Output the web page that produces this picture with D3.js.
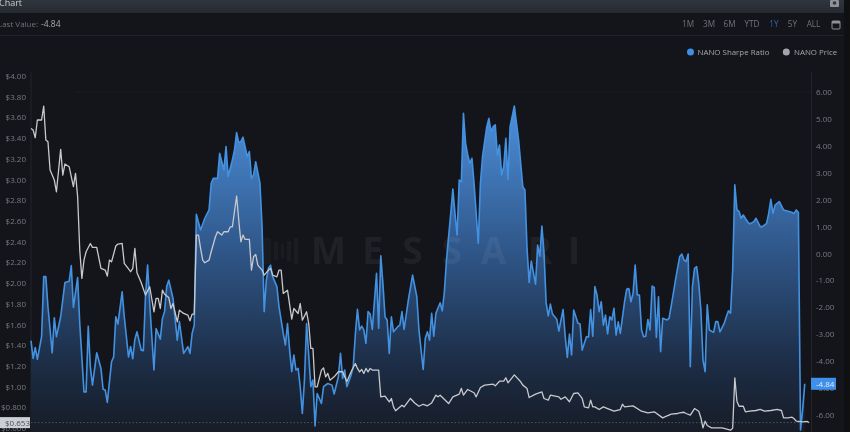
<!DOCTYPE html>
<html>
<head>
<meta charset="utf-8">
<script src="https://cdn.jsdelivr.net/npm/d3@7/dist/d3.min.js"></script>
<style>
html,body{margin:0;padding:0;background:#13151a;overflow:hidden}
svg{display:block;filter:blur(.35px)}
text{font-family:"Open Sans",sans-serif}
</style>
</head>
<body>
<svg id="c" width="850" height="432"></svg>
<script>
// [day of the 1Y window, value]
const sharpeSeries = [[0,-3.24],[1,-3.9],[2,-3.49],[3,-3.93],[5,-3.09],[6,-.86],[7,-.86],[8,-1.98],[10,-3.69],[11,-2.39],[12,-3.09],[14,-2.35],[16,-1.08],[18,-1.03],[19,-.45],[20,-2],[22,-.89],[23,-2.6],[25,-5.14],[26,-5.14],[27,-2.7],[28,-4.21],[29,-4.89],[31,-3.69],[33,-4.27],[34,-5.04],[35,-5.07],[36,-5.53],[38,-4.02],[39,-3.84],[40,-2.35],[41,-2.62],[43,-1.42],[44,-2.35],[46,-3.84],[47,-3.46],[48,-3.91],[49,-3.19],[50,-2.91],[52,-3.59],[53,-3.61],[54,-1.6],[55,-.43],[56,-1.85],[58,-4.33],[59,-2.79],[61,-3.18],[62,-2.41],[63,-2.16],[64,-1.23],[65,-.99],[67,-1.67],[69,-3.22],[70,-2.53],[72,-3.71],[74,-3.46],[75,-3.71],[76,-2.97],[77,-2.66],[78,1.46],[80,.87],[82,1.31],[84,1.62],[85,2.61],[86,2.79],[88,2.79],[89,3.72],[91,3.1],[92,3.97],[93,2.86],[95,3.48],[96,3.85],[97,4.49],[98,4.12],[99,4.16],[100,4.32],[102,3.6],[103,3.79],[104,2.79],[105,2.92],[106,3.41],[108,2.61],[109,1],[110,-2.16],[111,-.99],[112,-.55],[113,-.43],[114,-.86],[116,-1.23],[117,-1.98],[119,-2.97],[120,-3.4],[121,-2.6],[122,-3.59],[123,-4.39],[124,-3.77],[125,-4.33],[126,-4.27],[127,-4.95],[128,-5.94],[129,-4.7],[130,-2.6],[132,-4.95],[133,-4.7],[134,-6.41],[135,-5.2],[137,-5.57],[138,-4.95],[140,-4.83],[142,-4.89],[143,-5.22],[145,-4.58],[146,-3.71],[147,-4.64],[148,-4.33],[149,-4.95],[151,-4.52],[152,-4.21],[153,-3],[154,-2.07],[155,-2.84],[156,-2.7],[157,-2.84],[158,-3.34],[159,-2.16],[160,-2.25],[161,-2.82],[163,-.74],[164,-2.78],[165,-.09],[166,-1.11],[167,-2.35],[168,-2.47],[169,-3.71],[170,-2.35],[171,-2.91],[173,-2.72],[174,-2.66],[175,-2.16],[176,-2.82],[178,-1.73],[180,-.8],[182,-1.6],[183,-2.84],[185,-4.31],[186,-3.15],[187,-2.91],[188,-3.22],[189,-2.22],[190,-3.07],[191,-2.22],[193,-1.83],[194,-2.13],[195,-1.42],[196,-.24],[198,1.49],[199,2.39],[200,1.49],[201,.69],[202,2.73],[203,2.67],[204,5.21],[205,4.1],[206,3.66],[207,3.35],[208,3.54],[209,2.61],[211,.38],[212,2.61],[213,3.6],[215,4.71],[216,5.02],[217,4.53],[218,4.71],[219,4.78],[220,3.66],[221,4.03],[222,2.92],[223,3.23],[224,4.28],[225,2.76],[226,4.71],[228,5.48],[230,4.22],[232,2.48],[233,2.36],[234,.17],[235,-1.08],[236,-.28],[238,-1.14],[239,.31],[240,-.1],[241,1.02],[242,.03],[243,-1.83],[244,-2.32],[245,-1.88],[246,-2.25],[248,-2.44],[249,-2.88],[251,-2.08],[252,-3.09],[253,-3.86],[254,-2.99],[255,-3.77],[256,-2.1],[258,-2.59],[259,-2.62],[260,-3.59],[262,-3.09],[263,-3.1],[264,-2.08],[265,-3.07],[266,-1.23],[267,-1.54],[268,-2.16],[269,-1.79],[270,-2.66],[271,-2.29],[272,-2.99],[273,-2.35],[274,-2.47],[275,-2.04],[276,-3.03],[277,-2.54],[278,-2.97],[280,-1.79],[281,-1.33],[282,-1.3],[283,-1.79],[284,-1.48],[285,-.43],[286,-1.54],[287,-1.54],[288,-2.84],[289,-3.09],[290,-3.07],[291,-2.45],[292,-2.84],[293,-1.21],[294,-1.26],[295,-3.12],[296,-1.61],[297,-3.65],[298,-2.41],[300,-2.47],[301,-2.41],[303,-1.48],[304,-.99],[306,-.12],[307,-.02],[308,-.24],[309,-.3],[310,-.02],[311,-4.21],[312,-1.23],[313,-.55],[314,-.49],[315,-1.11],[316,-2.1],[317,-3.96],[318,-4.39],[319,-1.91],[320,-2.84],[322,-2.93],[323,-2.53],[324,-2.53],[325,-2.91],[327,-2.6],[328,-2.35],[329,-2.13],[330,-2.22],[331,-.61],[332,2.55],[333,1.62],[334,1.56],[335,1.31],[336,1.43],[338,1.18],[339,1.1],[341,1.18],[342,1.31],[344,1],[345,1],[347,1.12],[348,1.49],[349,2.01],[350,1.49],[351,1.8],[353,1.93],[355,1.62],[358,1.55],[359,1.52],[360,1.49],[361,1.62],[362,1.52],[363,-6.56],[364,-5.8],[365,-4.84]];
const priceSeries = [[0,3.494],[1,3.478],[2,3.404],[3,3.575],[5,3.575],[6,3.71],[7,3.382],[8,3.366],[9,3.092],[10,3.043],[11,2.995],[12,2.882],[14,3.291],[15,3.043],[16,3.15],[18,3.124],[20,2.931],[21,3.06],[22,2.834],[23,2.319],[24,2.045],[25,2.222],[26,2.303],[28,2.383],[29,2.345],[31,2.345],[33,2.142],[35,2.126],[36,2.068],[37,2.222],[38,2.206],[40,2.358],[41,2.377],[43,2.383],[44,2.19],[47,2.11],[48,2.142],[49,2.335],[50,2.1],[52,2.003],[54,1.884],[56,1.965],[58,1.723],[59,1.852],[60,1.852],[61,1.755],[62,1.932],[63,1.893],[65,1.861],[66,1.755],[67,1.803],[69,1.626],[70,1.739],[72,1.707],[74,1.691],[75,1.636],[76,1.7],[77,1.7],[78,2.464],[79,2.464],[80,2.335],[81,2.222],[82,2.197],[84,2.222],[85,2.303],[87,2.448],[88,2.496],[90,2.464],[91,2.496],[92,2.496],[93,2.496],[94,2.544],[95,2.544],[97,2.841],[98,2.609],[99,2.399],[100,2.464],[101,2.422],[103,2.422],[104,2.126],[105,2.255],[106,2.277],[107,2.174],[109,2.126],[110,2.077],[112,2.126],[113,2.142],[114,2.077],[116,2.061],[117,2.126],[118,2.126],[119,1.9],[121,1.932],[123,1.652],[124,1.755],[126,1.707],[127,1.803],[128,1.642],[130,1.723],[131,1.61],[132,1.369],[133,1.369],[134,.998],[135,.998],[137,1.16],[138,1.182],[139,1.095],[140,1.128],[141,1.063],[143,1.095],[145,1.144],[147,1.144],[149,1.047],[151,1.144],[153,1.224],[154,1.176],[155,1.143],[156,1.166],[157,1.127],[158,1.176],[159,1.143],[160,1.176],[161,1.16],[164,1.16],[165,.902],[167,.908],[169,.853],[170,.886],[171,.805],[172,.767],[175,.821],[176,.805],[179,.886],[181,.843],[183,.811],[185,.83],[187,.815],[189,.843],[191,.918],[192,.902],[193,.918],[197,.837],[199,.902],[202,.928],[203,.983],[204,.918],[206,.973],[209,.941],[210,.902],[212,.992],[214,1.015],[218,1.024],[219,1.008],[221,1.053],[223,1.053],[224,1.086],[225,1.037],[228,1.114],[231,1.047],[232,1.015],[234,.982],[235,.895],[238,.928],[241,.95],[242,.886],[244,.87],[245,.918],[249,.902],[250,.879],[252,.902],[254,.854],[256,.934],[258,.94],[260,.886],[261,.805],[263,.795],[264,.87],[265,.805],[266,.805],[268,.779],[270,.805],[272,.789],[275,.763],[278,.779],[279,.83],[280,.805],[284,.815],[288,.763],[291,.747],[294,.757],[298,.699],[299,.708],[302,.734],[305,.741],[306,.747],[308,.753],[309,.741],[311,.725],[313,.789],[315,.763],[316,.7],[317,.602],[318,.667],[319,.625],[321,.602],[326,.602],[330,.58],[331,.6],[332,1.085],[333,.86],[334,.811],[336,.811],[337,.757],[339,.763],[342,.77],[344,.78],[346,.763],[349,.77],[352,.78],[354,.77],[355,.699],[357,.699],[359,.705],[360,.69],[361,.667],[364,.66],[366,.665],[367,.653]];
const priceTicks = [4,3.8,3.6,3.4,3.2,3,2.8,2.6,2.4,2.2,2,1.8,1.6,1.4,1.2,1,.8,.6];
const sharpeTicks = [6,5,4,3,2,1,0,-1,-2,-3,-4,-5,-6];
const rangeButtons = [["1M",688],["3M",709],["6M",729.5],["YTD",752],["1Y",774],["5Y",792.5],["ALL",813.5]];
const lastSharpe = -4.84, lastPrice = 0.653;
const watermark = [["M",328.5],["E",372.5],["S",412.5],["S",452],["A",493.5],["R",540],["I",574]];

const svg = d3.select("#c");
const x = d3.scaleLinear().domain([0,367]).range([31,809]);
const yP = d3.scaleLinear().domain([.6,4]).range([428.1,76]);
const yS = d3.scaleLinear().domain([-6,6]).range([415,92]);
const lblCol = "#777b82";

// chrome
const defs = svg.append("defs");
const hg = defs.append("linearGradient").attr("id","hg").attr("x1",0).attr("x2",0).attr("y1",0).attr("y2",1);
hg.append("stop").attr("offset",0).attr("stop-color","#30353e");
hg.append("stop").attr("offset",1).attr("stop-color","#262a32");
const ag = defs.append("linearGradient").attr("id","ag").attr("gradientUnits","userSpaceOnUse").attr("x1",0).attr("x2",0).attr("y1",yS(5.5)).attr("y2",432);
ag.append("stop").attr("offset",0).attr("stop-color","#4d90dc");
ag.append("stop").attr("offset",.45).attr("stop-color","#2f5688");
ag.append("stop").attr("offset",.8).attr("stop-color","#1c2c44");
ag.append("stop").attr("offset",1).attr("stop-color","#171c27");
svg.append("rect").attr("x",844).attr("width",6).attr("height",432).attr("fill","#0e1014");
svg.append("rect").attr("width",844).attr("height",13).attr("fill","url(#hg)");
svg.append("rect").attr("y",35).attr("width",844).attr("height",1).attr("fill","#1f2229");
svg.append("text").attr("x",-1).attr("y",6).attr("font-size",9).attr("fill","#c9ccd1").text("Chart");
svg.append("text").attr("x",-2).attr("y",27).attr("font-size",8).attr("fill","#6f737a").text("Last Value:");
svg.append("text").attr("x",41).attr("y",27).attr("font-size",8.5).attr("fill","#a6a9ae").text(lastSharpe.toFixed(2));
svg.selectAll("text.rb").data(rangeButtons).join("text").attr("class","rb")
  .attr("x",d=>d[1]).attr("y",27).attr("text-anchor","middle").attr("font-size",8.2)
  .attr("fill",d=>d[0]==="1Y"?"#2f6aa8":"#6f737a").text(d=>d[0]);
// camera + calendar icons
svg.append("rect").attr("x",830).attr("y",0).attr("width",9).attr("height",7).attr("rx",1).attr("fill","#8e9197");
svg.append("circle").attr("cx",834.5).attr("cy",3).attr("r",1.8).attr("fill","#30353e");
svg.append("rect").attr("x",832).attr("y",21).attr("width",8).attr("height",8).attr("rx",1).attr("fill","none").attr("stroke","#8e9197");
svg.append("rect").attr("x",832).attr("y",21).attr("width",8).attr("height",2.5).attr("fill","#8e9197");

// legend
svg.append("circle").attr("cx",690.5).attr("cy",52).attr("r",3.5).attr("fill","#3f8fe6");
svg.append("text").attr("x",697.5).attr("y",55).attr("font-size",7.9).attr("fill","#a4a7ad").text("NANO Sharpe Ratio");
svg.append("circle").attr("cx",786.3).attr("cy",52).attr("r",3.5).attr("fill","#a3a4ae");
svg.append("text").attr("x",794).attr("y",55).attr("font-size",7.9).attr("fill","#a4a7ad").text("NANO Price");

// faint grid
svg.append("line").attr("x1",75).attr("x2",811).attr("y1",yS(6)).attr("y2",yS(6)).attr("stroke","#1a1c22");
svg.append("line").attr("x1",31).attr("x2",31).attr("y1",72).attr("y2",432).attr("stroke","#22252b");
svg.append("line").attr("x1",811.5).attr("x2",811.5).attr("y1",72).attr("y2",432).attr("stroke","#22252b");

// area + lines
svg.append("path").datum(sharpeSeries)
  .attr("d",d3.area().x(d=>x(d[0])).y0(440).y1(d=>yS(d[1])))
  .attr("fill","url(#ag)");

// watermark
svg.selectAll("text.wm").data(watermark).join("text").attr("class","wm")
  .attr("x",d=>d[1]).attr("y",264).attr("text-anchor","middle")
  .attr("font-size",37).attr("font-weight",700).attr("fill","#fff").attr("fill-opacity",.055).text(d=>d[0]);
svg.selectAll("rect.lg").data([[264,26,7],[274,18,4],[281,14,3],[287,20,4],[294,26,4]]).join("rect").attr("class","lg")
  .attr("x",d=>d[0]).attr("y",d=>251-d[1]/2).attr("width",d=>d[2]).attr("height",d=>d[1]).attr("fill","#fff").attr("fill-opacity",.03);

svg.append("path").datum(sharpeSeries)
  .attr("d",d3.line().x(d=>x(d[0])).y(d=>yS(d[1])))
  .attr("fill","none").attr("stroke","#4392e2").attr("stroke-width",1.6).attr("stroke-linejoin","round");
svg.append("path").datum(priceSeries)
  .attr("d",d3.line().x(d=>x(d[0])).y(d=>yP(d[1])))
  .attr("fill","none").attr("stroke","#c8c9cc").attr("stroke-width",1.3).attr("stroke-linejoin","round");

// axes
const fmtP = v => "$" + (v>=1 ? v.toFixed(2) : v.toFixed(3));
const gL = svg.append("g").attr("transform","translate(31,0)")
  .call(d3.axisLeft(yP).tickValues(priceTicks).tickFormat(fmtP).tickSize(0).tickPadding(5));
const gR = svg.append("g").attr("transform","translate(811,0)")
  .call(d3.axisRight(yS).tickValues(sharpeTicks).tickFormat(d=>d.toFixed(2)).tickSize(0).tickPadding(5));
[gL,gR].forEach(g=>{
  g.select(".domain").remove();
  g.selectAll("text").attr("font-size",8).attr("fill",lblCol).style("font-family",'"Open Sans",sans-serif');
});

// last-value markers
svg.append("line").attr("x1",31).attr("x2",811).attr("y1",yP(lastPrice)).attr("y2",yP(lastPrice))
  .attr("stroke","#8a8d92").attr("stroke-width",.7).attr("stroke-dasharray","1.5 2").attr("stroke-opacity",.7);
svg.append("rect").attr("x",0).attr("y",yP(lastPrice)-5.5).attr("width",30).attr("height",11).attr("fill","#ccd0d6");
svg.append("text").attr("x",5).attr("y",yP(lastPrice)+3).attr("font-size",8).attr("fill","#4b4f57").text("$"+lastPrice.toFixed(3));
svg.append("rect").attr("x",811).attr("y",yS(lastSharpe)-6).attr("width",25).attr("height",12).attr("fill","#3f90ea");
svg.append("text").attr("x",816).attr("y",yS(lastSharpe)+3).attr("font-size",8).attr("fill","#dfeaf7").text(lastSharpe.toFixed(2));
</script>
</body>
</html>
